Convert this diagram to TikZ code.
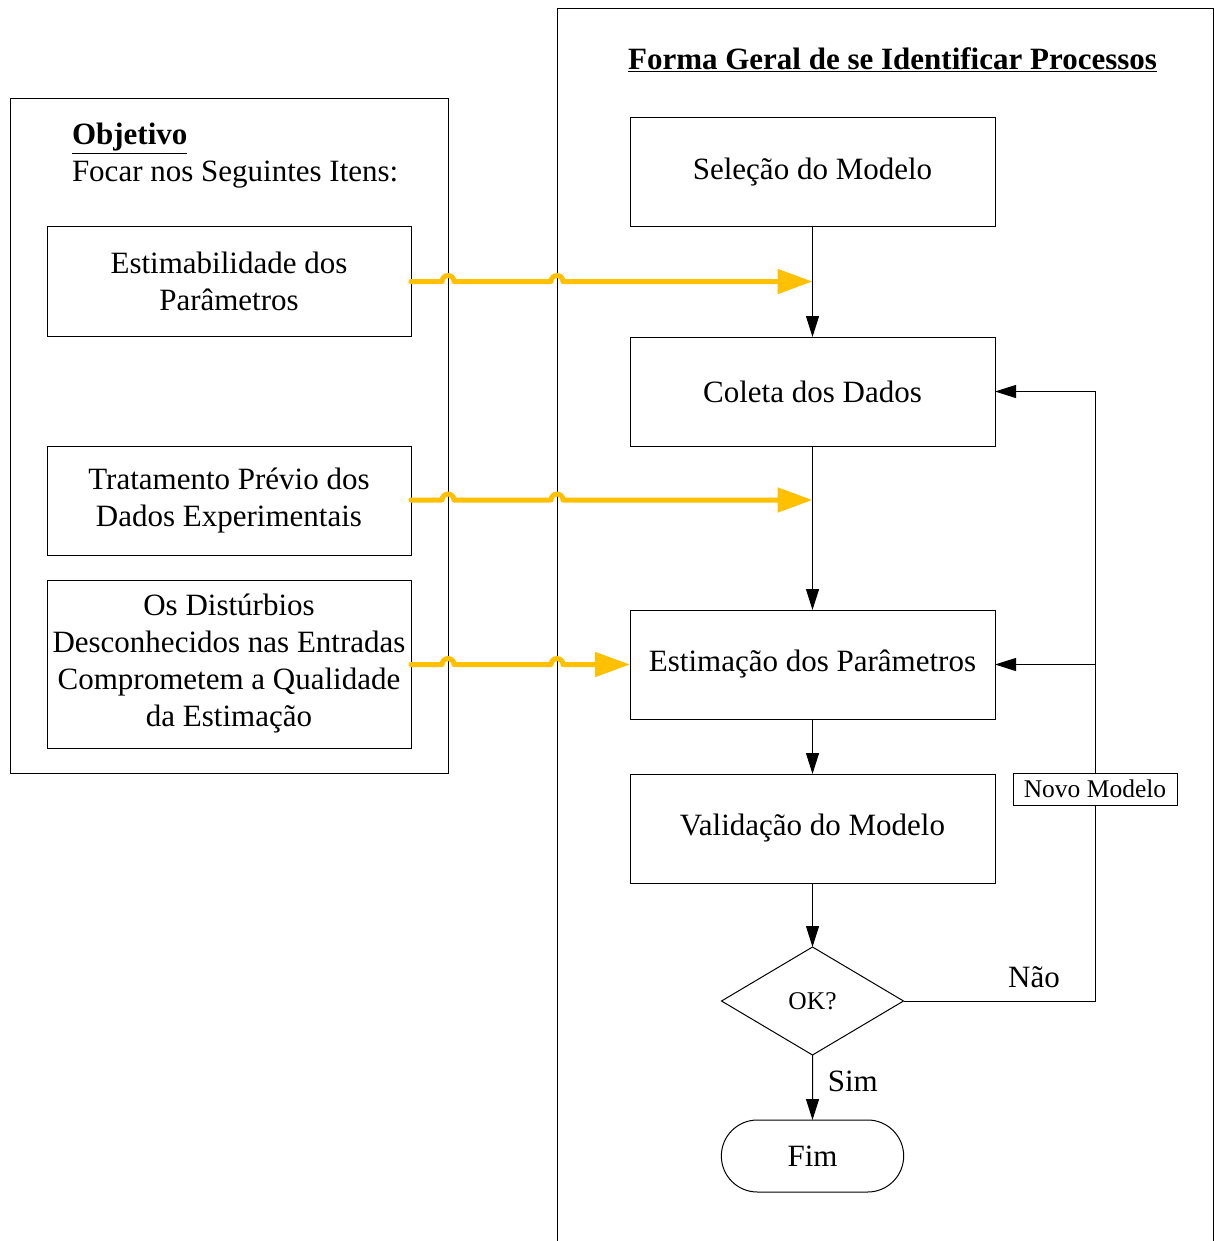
\documentclass[tikz,border=0pt]{standalone}
\usepackage{fontspec}
\setmainfont{Liberation Serif}
\usetikzlibrary{arrows.meta, positioning, shapes.geometric, shapes.misc}
\definecolor{my_yellow}{RGB}{255, 192, 0}
\tikzset {
  frame/.style = {draw, line width=1pt},
  box/.style = {draw, line width=1pt, rectangle, minimum width=365pt, minimum height=109pt, align=center, inner sep=2pt, font=\fontsize{31}{37}\selectfont},
  leftbox/.style = {box, minimum width=364pt},
  decision/.style = {draw, line width=1pt, diamond, minimum width=182pt, minimum height=108pt, inner sep=0pt, font=\fontsize{25.5}{30}\selectfont},
  terminal/.style = {draw, line width=1pt, rounded rectangle, minimum width=189pt, minimum height=72pt, font=\fontsize{31}{37}\selectfont},
  tag/.style = {draw, line width=1pt, fill=white, minimum width=164pt, minimum height=32pt, inner sep=1pt, font=\fontsize{25.5}{30}\selectfont},
  label/.style = {font=\fontsize{31}{37}\selectfont},
  line/.style = {-{Triangle[length=21pt, width=13pt]}, line width=1pt, color=black},
  plainline/.style = {line width=1pt, color=black},
  hopline/.style = {-{Triangle[length=35pt, width=24pt]}, line width=5pt, color=my_yellow, line cap=round, line join=round}
}

\begin{document}
\begin{tikzpicture}[x=1pt, y=-1pt, outer sep=0pt, node distance=110pt]
  \useasboundingbox (0,0) rectangle (1214,1241);

  % frames
  \draw[frame] (557,1241) -- (557,9) -- (1213,9) -- (1213,1241);
  \draw[frame] (10,99) rectangle (448,773);

  % titles
  \node[label, anchor=base, font=\fontsize{31}{37}\selectfont\bfseries] (title) at (892.5,70) {\underline{Forma Geral de se Identificar Processos}};
  \node[label, anchor=base west, inner sep=0pt, font=\fontsize{31}{37}\selectfont\bfseries] (obj) at (72,145) {\underline{Objetivo}};
  \node[label, anchor=base west, inner sep=0pt] (focar) at (72,182) {Focar nos Seguintes Itens:};

  % left column
  \node[leftbox] (estim_par) at (229,281.5) {Estimabilidade dos\\Parâmetros};
  \node[leftbox] (trat) at (229,500.5) {Tratamento Prévio dos\\Dados Experimentais};
  \node[leftbox, minimum height=168pt] (dist) at (229,664) {Os Distúrbios\\Desconhecidos nas Entradas\\Comprometem a Qualidade\\da Estimação};

  % right column
  \node[box] (selecao) at (812.5,172.5) {Seleção do Modelo};
  \node[box, below=110pt of selecao] (coleta) {Coleta dos Dados};
  \node[box, below=164pt of coleta] (estimacao) {Estimação dos Parâmetros};
  \node[box, below=55pt of estimacao] (validacao) {Validação do Modelo};
  \node[decision, below=64pt of validacao] (ok) {OK?};
  \node[terminal, below=65pt of ok] (fim) {Fim};

  \draw[line] (selecao) -- (coleta);
  \draw[line] (coleta) -- (estimacao);
  \draw[line] (estimacao) -- (validacao);
  \draw[line] (validacao) -- (ok);
  \draw[line] (ok) -- (fim) node[label, pos=0.4, right=12pt] (sim) {Sim};

  % feedback loop
  \coordinate (novopos) at (1095,789);
  \coordinate (loop) at (ok.east -| novopos);
  \coordinate (branch) at (estimacao.east -| novopos);
  \draw[plainline] (ok.east) -- (loop) -- (novopos);
  \draw[line] (novopos) |- (coleta.east);
  \draw[line] (branch) -- (estimacao.east);
  \node[label] (nao) at (1034,977) {Não};
  \node[tag] (novo) at (novopos) {Novo Modelo};

  % yellow arrows
  \coordinate (hit1) at (812.5,281.5);
  \coordinate (hit2) at (812.5,500);
  \draw[hopline] (estim_par.east) -- (442,281.5) arc[start angle=180, end angle=360, radius=6] -- (551,281.5) arc[start angle=180, end angle=360, radius=6] -- (hit1);
  \draw[hopline] (trat.east |- hit2) -- (442,500) arc[start angle=180, end angle=360, radius=6] -- (551,500) arc[start angle=180, end angle=360, radius=6] -- (hit2);
  \draw[hopline] (dist.east |- estimacao.west) -- (442,664.5) arc[start angle=180, end angle=360, radius=6] -- (551,664.5) arc[start angle=180, end angle=360, radius=6] -- (estimacao.west);

\end{tikzpicture}
\end{document}
